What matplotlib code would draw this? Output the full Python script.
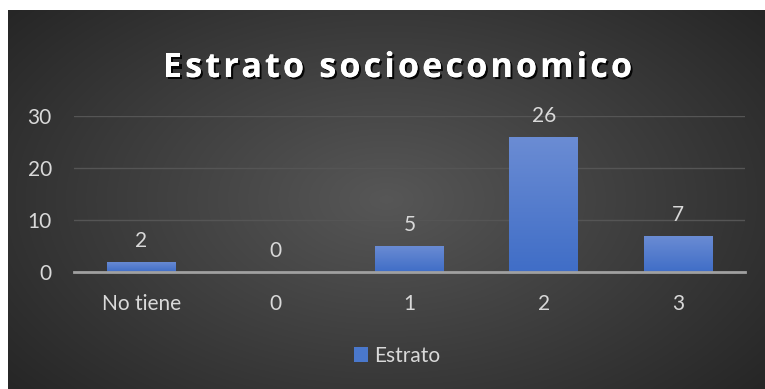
import numpy as np
import matplotlib.pyplot as plt
import matplotlib.patheffects as pe
from matplotlib.patches import Rectangle

categories = ["No tiene", "0", "1", "2", "3"]
counts = [2, 0, 5, 26, 7]
series_name = "Estrato"
title = "Estrato socioeconomico"

W, H = 765, 389
LBL = "#d9d9d9"
FONT = "Lato"
FS = 15
fig = plt.figure(figsize=(W / 100, H / 100), dpi=100)
fig.patch.set_facecolor("white")

# dark panel with radial glow
bg = fig.add_axes([8 / W, 0, 1 - 8 / W, 1 - 10 / H])
bg.set_axis_off()
yy, xx = np.mgrid[0:1:300j, 0:1:600j]
r = np.sqrt(((xx - 0.5) / 0.75) ** 2 + ((yy - 0.5) / 0.9) ** 2)
shade = np.clip(0.34 - 0.22 * r, 0.15, 0.34)
bg.imshow(np.dstack([shade] * 3), extent=[0, 1, 0, 1], aspect="auto")
bg.set_xlim(0, 1)
bg.set_ylim(0, 1)

ax = fig.add_axes([74 / W, (H - 272) / H, (745 - 74) / W, (272 - 116) / H])
ax.patch.set_alpha(0)
x = np.arange(len(categories))
bars = ax.bar(x, counts, width=0.51, color="#4472c4", label=series_name, zorder=3)

# vertical gradient inside each bar
grad = np.linspace(0, 1, 100).reshape(-1, 1)
top = np.array([0.42, 0.55, 0.83])
bot = np.array([0.25, 0.43, 0.78])
cols = bot + (top - bot) * grad[..., None]
for b in bars:
    x0, w, h = b.get_x(), b.get_width(), b.get_height()
    if h > 0:
        im = ax.imshow(cols, extent=[x0, x0 + w, 0, h], origin="lower",
                       aspect="auto", zorder=3)
        im.set_clip_path(b)
    ax.text(x0 + w / 2, h + 2.1, str(h), ha="center", va="bottom",
            color=LBL, fontsize=FS, family=FONT)

ax.set_xlim(-0.5, len(categories) - 0.5)
ax.set_ylim(0, 30)
ax.set_yticks([0, 10, 20, 30])
ax.set_xticks(x)
ax.set_xticklabels(categories)
for t in ax.get_xticklabels() + ax.get_yticklabels():
    t.set_family(FONT)
ax.tick_params(axis="both", length=0, colors=LBL, labelsize=FS)
ax.tick_params(axis="y", pad=16)
ax.tick_params(axis="x", pad=16)
ax.grid(axis="y", color="#555555", linewidth=1, zorder=0)
for s in ["top", "right", "left"]:
    ax.spines[s].set_visible(False)
ax.spines["bottom"].set_color("#a0a0a0")
ax.spines["bottom"].set_linewidth(2)
ax.spines["bottom"].set_zorder(4)

# title drawn letter by letter to get the wide tracking
renderer = fig.canvas.get_renderer()
tkw = dict(color="white", fontsize=24.5, fontweight="bold", family="Open Sans",
           va="baseline", ha="left")
def text_w(s):
    t = fig.text(0, 0, s, **tkw)
    w = t.get_window_extent(renderer).width
    t.remove()
    return w
natural = text_w(title)
left, right, base = 163, 632, 77
track = (right - left - natural) / (len(title) - 1)
shadow = [pe.withSimplePatchShadow(offset=(1.5, -1.5), shadow_rgbFace="black", alpha=0.9),
          pe.Normal()]
for i, ch in enumerate(title):
    if ch == " ":
        continue
    px = left + text_w(title[:i + 1]) - text_w(ch) + i * track
    fig.text(px / W, 1 - base / H, ch, path_effects=shadow, **tkw)

handles = [Rectangle((0, 0), 1, 1, facecolor="#4a78cc")]
leg = fig.legend(handles, [series_name], loc="center", bbox_to_anchor=(397 / W, 1 - 356 / H),
                 frameon=False, handlelength=0.7, handleheight=0.7,
                 handletextpad=0.3, labelcolor=LBL, prop={"family": FONT, "size": FS})

fig.savefig("out.png", dpi=100, facecolor=fig.get_facecolor())
